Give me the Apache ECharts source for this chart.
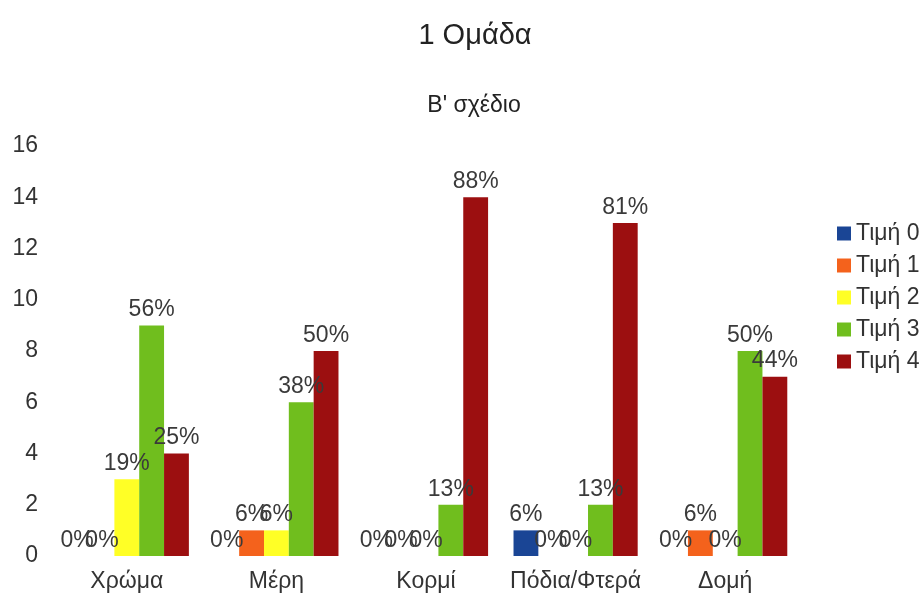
<!DOCTYPE html>
<html>
<head>
<meta charset="utf-8">
<script src="https://cdn.jsdelivr.net/npm/echarts@6/dist/echarts.min.js"></script>
<style>
  html, body { margin: 0; padding: 0; background: #fff; }
</style>
</head>
<body>
<!-- chart container -->
<div id="main" style="width: 924px; height: 602px"></div>
<script>
// categories
var categories = ["Χρώμα", "Μέρη", "Κορμί", "Πόδια/Φτερά", "Δομή"];
var seriesNames = ["Τιμή 0", "Τιμή 1", "Τιμή 2", "Τιμή 3", "Τιμή 4"];
// counts per value (16 answers per category)
var timi0 = [0, 0, 0, 1, 0];
var timi1 = [0, 1, 0, 0, 1];
var timi2 = [3, 1, 0, 0, 0];
var timi3 = [9, 6, 2, 2, 8];
var timi4 = [4, 8, 14, 13, 7];
var colors = ["#1a4595", "#f4621c", "#ffff26", "#70be1e", "#9c0f10"];
var total = 16;

var allData = [timi0, timi1, timi2, timi3, timi4];
var font = "Liberation Sans";

var series = allData.map(function (d, i) {
  return {
    name: seriesNames[i],
    type: "bar",
    data: d,
    barGap: "0%",
    barCategoryGap: "17%",
    itemStyle: { color: colors[i] },
    label: {
      show: true,
      position: "top",
      distance: 4,
      color: "#3a3a3a",
      fontFamily: font,
      fontSize: 23,
      formatter: function (p) {
        return Math.round(p.value / total * 100) + "%";
      }
    }
  };
});

var myChart = echarts.init(document.getElementById("main"));
myChart.setOption({
  animation: false,
  title: [
    {
      text: "1 Ομάδα",
      left: 470,
      textAlign: "center",
      top: 16,
      textStyle: { fontFamily: font, fontSize: 29, fontWeight: "normal", color: "#222" }
    },
    {
      text: "Β' σχέδιο",
      left: 469,
      textAlign: "center",
      top: 89,
      textStyle: { fontFamily: font, fontSize: 23, fontWeight: "normal", color: "#222" }
    }
  ],
  legend: {
    orient: "vertical",
    left: 832,
    top: 217,
    itemWidth: 14,
    itemHeight: 14,
    itemGap: 9,
    icon: "rect",
    textStyle: { fontFamily: font, fontSize: 23, color: "#333" },
    data: seriesNames
  },
  grid: { left: 52, right: 124, top: 146, bottom: 46 },
  xAxis: {
    type: "category",
    data: categories,
    axisLine: { show: false },
    axisTick: { show: false },
    axisLabel: { interval: 0, fontFamily: font, fontSize: 23, color: "#333", margin: 14 }
  },
  yAxis: {
    type: "value",
    min: 0,
    max: 16,
    interval: 2,
    splitLine: { show: false },
    axisLine: { show: false },
    axisTick: { show: false },
    axisLabel: { fontFamily: font, fontSize: 23, color: "#333", margin: 14 }
  },
  series: series
});
</script>
</body>
</html>
